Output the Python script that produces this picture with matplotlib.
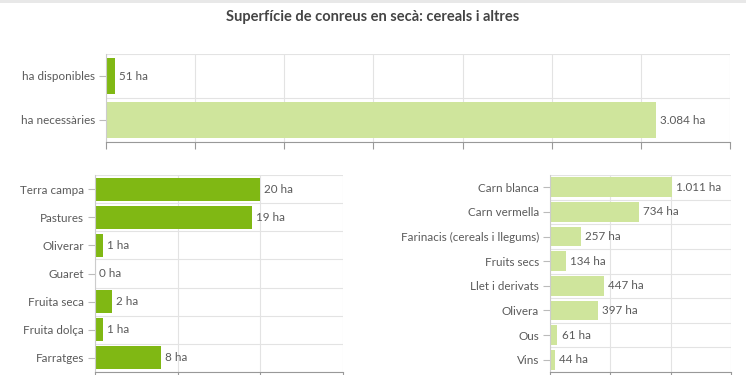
import matplotlib.pyplot as plt
from matplotlib.ticker import MultipleLocator

plt.rcParams['font.family'] = ['Lato', 'DejaVu Sans']

# Dades
top_cats = ["ha disponibles", "ha necessàries"]
top_vals = [51, 3084]
top_labels = ["51 ha", "3.084 ha"]

left_cats = ["Terra campa", "Pastures", "Oliverar", "Guaret", "Fruita seca", "Fruita dolça", "Farratges"]
left_vals = [20, 19, 1, 0, 2, 1, 8]
left_labels = ["20 ha", "19 ha", "1 ha", "0 ha", "2 ha", "1 ha", "8 ha"]

right_cats = ["Carn blanca", "Carn vermella", "Farinacis (cereals i llegums)", "Fruits secs",
              "Llet i derivats", "Olivera", "Ous", "Vins"]
right_vals = [1011, 734, 257, 134, 447, 397, 61, 44]
right_labels = ["1.011 ha", "734 ha", "257 ha", "134 ha", "447 ha", "397 ha", "61 ha", "44 ha"]

dark_green = "#80b814"
light_green = "#cfe59c"
text_col = "#5a5a5a"
grid_col = "#e3e3e3"

W, H = 746, 375
fig = plt.figure(figsize=(W / 100, H / 100), dpi=100)

# franja grisa a dalt
fig.add_artist(plt.Rectangle((0, 1 - 3 / H), 1, 3 / H, transform=fig.transFigure,
                             color="#e8e8e8", lw=0))

fig.text(0.5, 1 - 17 / H, "Superfície de conreus en secà: cereals i altres", ha="center", va="center",
         fontsize=10.5, fontweight="bold", color="#444444")


def make_axes(left, right, top, bottom):
    return fig.add_axes([left / W, 1 - bottom / H, (right - left) / W, (bottom - top) / H])


def draw_bars(ax, cats, vals, labels, colors, xmax, step, bar_h):
    n = len(cats)
    ypos = list(range(n))
    ax.barh(ypos, vals, height=bar_h, color=colors, zorder=2)
    ax.set_xlim(0, xmax)
    ax.set_ylim(n - 0.5, -0.5)
    ax.set_yticks(ypos)
    ax.set_yticklabels(cats, fontsize=8.4, color=text_col)
    ax.xaxis.set_major_locator(MultipleLocator(step))
    ax.set_yticks([k + 0.5 for k in range(-1, n)], minor=True)
    ax.tick_params(axis="y", which="major", length=5, color="#bbbbbb", pad=3)
    ax.tick_params(axis="y", which="minor", length=0)
    ax.tick_params(axis="x", length=5, color="#999999", labelbottom=False)
    ax.grid(True, axis="x", which="major", color=grid_col, lw=0.8, zorder=0)
    ax.grid(True, axis="y", which="minor", color=grid_col, lw=0.8, zorder=0)
    for s in ["top", "right"]:
        ax.spines[s].set_visible(False)
    ax.spines["left"].set_color("#cccccc")
    ax.spines["bottom"].set_color("#999999")
    for y, v, lab in zip(ypos, vals, labels):
        ax.annotate(lab, (v, y), xytext=(3, 0), textcoords="offset points",
                    ha="left", va="center", fontsize=8.4, color=text_col)


ax1 = make_axes(106, 730, 54, 142)
draw_bars(ax1, top_cats, top_vals, top_labels, [dark_green, light_green], 3500, 500, 0.83)

ax2 = make_axes(95, 343, 175, 372)
draw_bars(ax2, left_cats, left_vals, left_labels, [dark_green] * len(left_cats), 30, 10, 0.82)

ax3 = make_axes(550, 731, 175, 372)
draw_bars(ax3, right_cats, right_vals, right_labels, [light_green] * len(right_cats), 1500, 500, 0.8)

fig.savefig("out.png", dpi=100)
